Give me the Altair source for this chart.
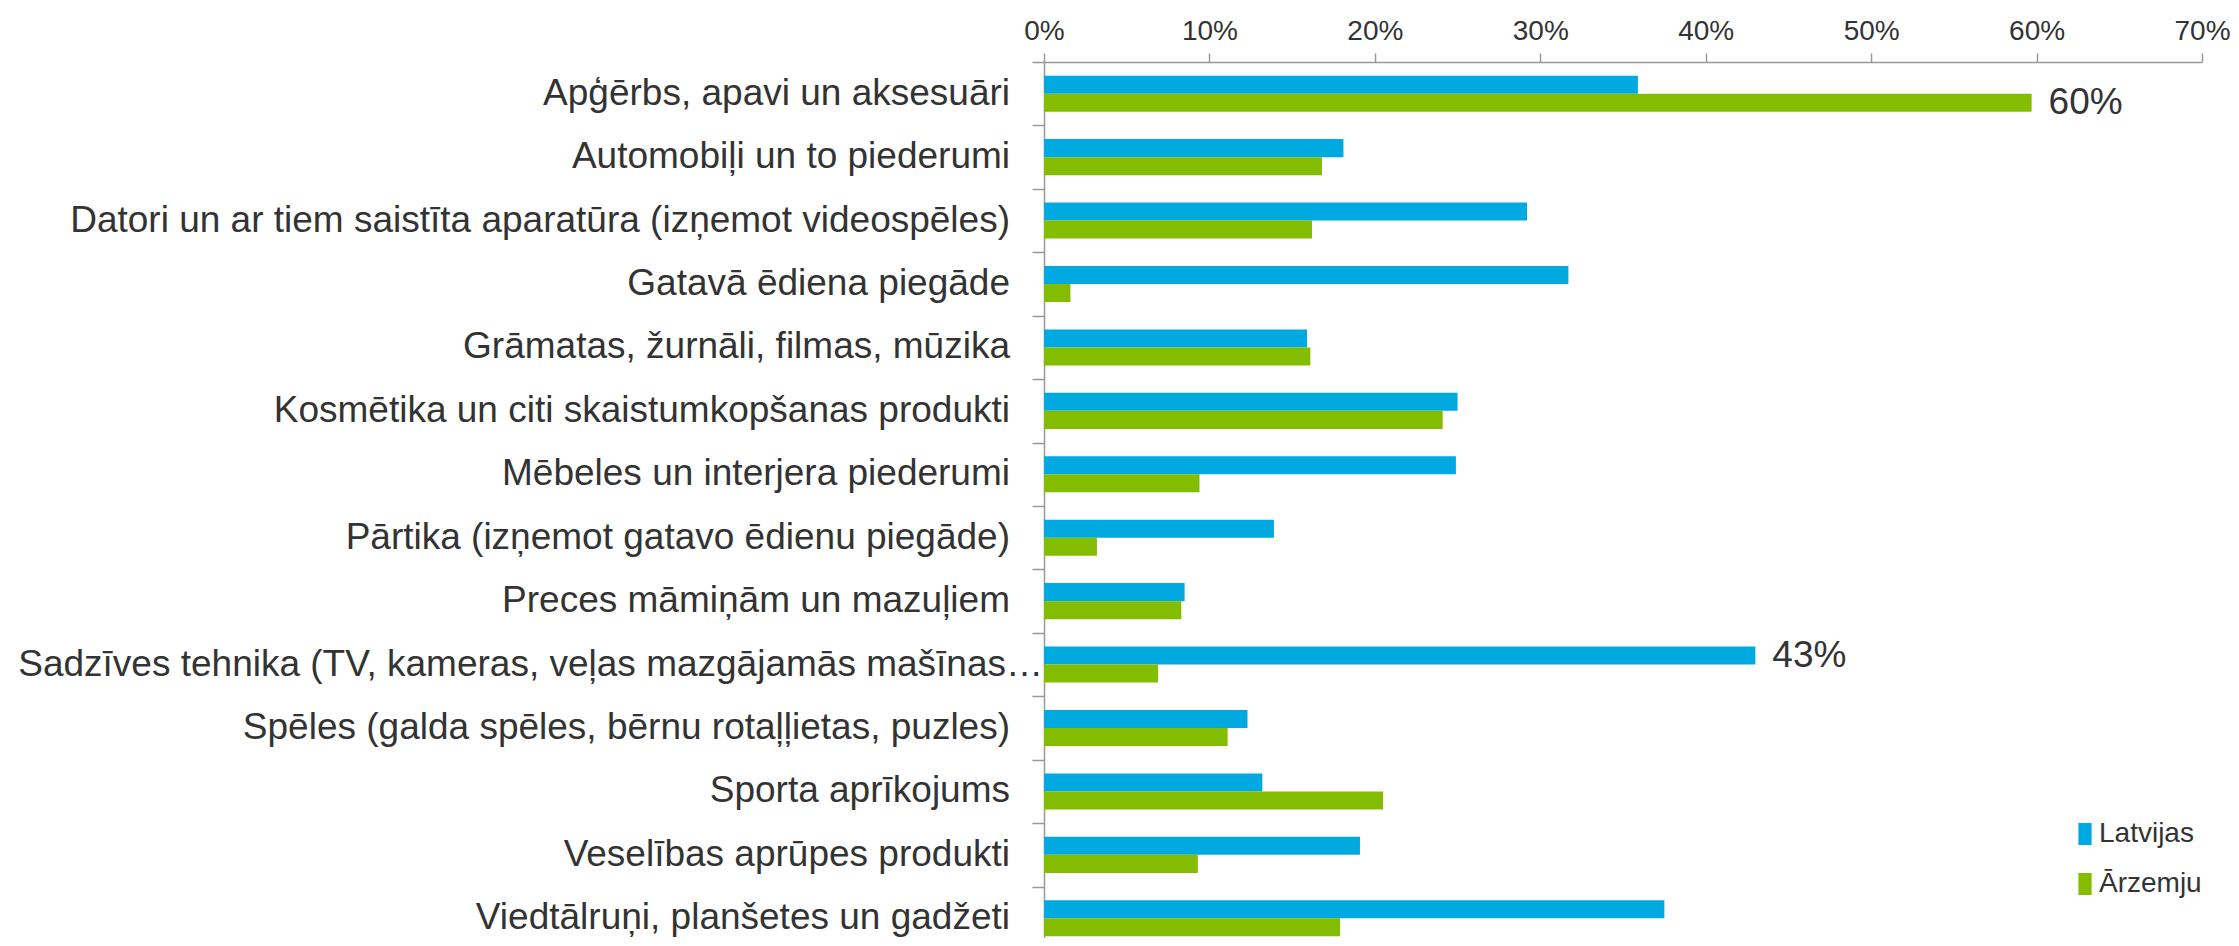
import altair as alt
import pandas as pd

categories = [
    "Apģērbs, apavi un aksesuāri",
    "Automobiļi un to piederumi",
    "Datori un ar tiem saistīta aparatūra (izņemot videospēles)",
    "Gatavā ēdiena piegāde",
    "Grāmatas, žurnāli, filmas, mūzika",
    "Kosmētika un citi skaistumkopšanas produkti",
    "Mēbeles un interjera piederumi",
    "Pārtika (izņemot gatavo ēdienu piegāde)",
    "Preces māmiņām un mazuļiem",
    "Sadzīves tehnika (TV, kameras, veļas mazgājamās mašīnas…",
    "Spēles (galda spēles, bērnu rotaļļietas, puzles)",
    "Sporta aprīkojums",
    "Veselības aprūpes produkti",
    "Viedtālruņi, planšetes un gadžeti",
]
latvijas = [35.9, 18.1, 29.2, 31.7, 15.9, 25.0, 24.9, 13.9, 8.5, 43.0, 12.3, 13.2, 19.1, 37.5]
arzemju = [59.7, 16.8, 16.2, 1.6, 16.1, 24.1, 9.4, 3.2, 8.3, 6.9, 11.1, 20.5, 9.3, 17.9]
series = ["Latvijas", "Ārzemju"]
colors = ["#00a9e0", "#84bd00"]
x_ticks = [0, 10, 20, 30, 40, 50, 60, 70]
labelled = [
    ("Apģērbs, apavi un aksesuāri", "Ārzemju"),
    ("Sadzīves tehnika (TV, kameras, veļas mazgājamās mašīnas…", "Latvijas"),
]
long_label = "Sadzīves tehnika (TV, kameras, veļas mazgājamās mašīnas…"

rows = []
for c, a, b in zip(categories, latvijas, arzemju):
    for s, v in zip(series, (a, b)):
        rows.append({"cat": c, "series": s, "value": v,
                     "show": (c, s) in labelled})
df = pd.DataFrame(rows)
label_df = pd.DataFrame({"cat": categories, "long": [c == long_label for c in categories]})

FONT = "Liberation Sans"
TXT = "#333333"
GRAY = "#999999"

y_enc = alt.Y(
    "cat:N", sort=categories, title=None,
    scale=alt.Scale(range=[0, 888], paddingInner=0, paddingOuter=0),
    axis=alt.Axis(tickBand="extent", tickSize=12, labels=False,
                  domainColor=GRAY, tickColor=GRAY,
                  domainWidth=1.5, tickWidth=1.5),
)
yoff_enc = alt.YOffset("series:N", sort=series,
                       scale=alt.Scale(paddingInner=0, paddingOuter=0.76))
x_enc = alt.X(
    "value:Q", title=None,
    scale=alt.Scale(domain=[0, 70], nice=False),
    axis=alt.Axis(orient="top", values=x_ticks, labelExpr="datum.value + '%'",
                  grid=False, tickSize=9, labelPadding=8, labelFontSize=28,
                  labelFont=FONT, labelColor=TXT, domainColor=GRAY,
                  tickColor=GRAY, domainWidth=1.5, tickWidth=1.5,
                  labelFlush=False, labelOverlap=False),
)

bars = alt.Chart(df).mark_bar().encode(
    x=x_enc,
    y=y_enc,
    yOffset=yoff_enc,
    color=alt.Color(
        "series:N", sort=series,
        scale=alt.Scale(domain=series, range=colors),
        legend=alt.Legend(orient="none", legendX=1027, legendY=758, title=None,
                          symbolType="M-0.6,-1H0.6V1H-0.6Z", symbolSize=484,
                          symbolStrokeWidth=0, labelFontSize=28, labelFont=FONT,
                          labelColor=TXT, rowPadding=22, labelOffset=0, padding=0),
    ),
)

texts = alt.Chart(df).transform_filter("datum.show").transform_calculate(
    lbl="round(datum.value) + '%'"
).mark_text(align="left", baseline="middle", dx=17, fontSize=37,
            font=FONT, color=TXT).encode(
    x="value:Q",
    y=alt.Y("cat:N", sort=categories),
    yOffset=alt.YOffset("series:N", sort=series),
    text="lbl:N",
)

cat_labels = alt.Chart(label_df).transform_filter("!datum.long").mark_text(
    align="right", baseline="middle", fontSize=37, font=FONT, color=TXT
).encode(
    y=alt.Y("cat:N", sort=categories),
    x=alt.value(-34),
    text="cat:N",
)
long_cat_label = alt.Chart(label_df).transform_filter("datum.long").mark_text(
    align="right", baseline="middle", fontSize=37, font=FONT, color=TXT
).encode(
    y=alt.Y("cat:N", sort=categories),
    x=alt.value(-1),
    text="cat:N",
)

chart = alt.layer(bars, texts, cat_labels, long_cat_label).properties(
    width=1158, height=876,
    padding={"left": 1036, "top": 54, "right": 29, "bottom": 0},
    autosize="none",
).configure_view(stroke=None)

chart.save("out.html", embed_options={"renderer": "svg", "actions": False})
